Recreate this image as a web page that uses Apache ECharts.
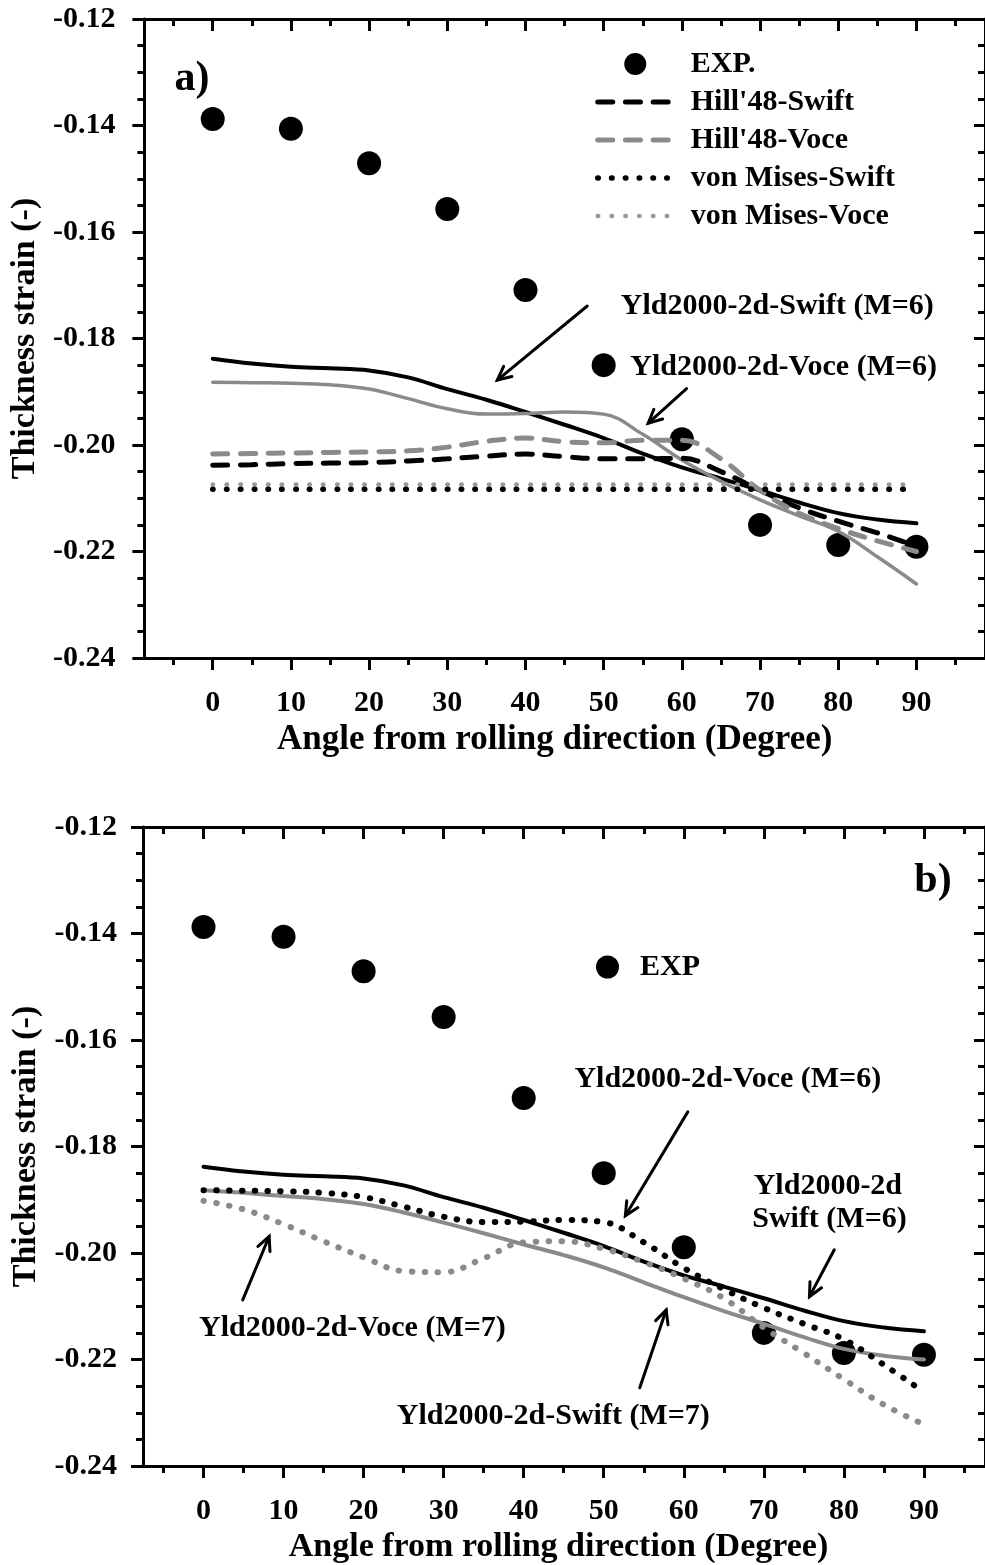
<!DOCTYPE html>
<html>
<head>
<meta charset="utf-8">
<script src="https://cdn.jsdelivr.net/npm/echarts@6/dist/echarts.min.js"></script>
<style>
html,body{margin:0;padding:0;background:#fff;}
#c{width:985px;height:1565px;}
</style>
</head>
<body>
<div id="c"></div>
<script>
// ---------------- data ----------------
const angles = [0,5,10,15,20,25,30,35,40,45,50,55,60,65,70,75,80,85,90];
const expAngles = [0,10,20,30,40,50,60,70,80,90];
const expValues = [-0.1388,-0.1406,-0.1471,-0.1557,-0.1709,-0.1850,-0.1989,-0.2150,-0.2188,-0.2191];

const yldSwiftM6 = [-0.1838,-0.1847,-0.1853,-0.1856,-0.1860,-0.1873,-0.1895,-0.1915,-0.1938,-0.1962,-0.1987,-0.2016,-0.2042,-0.2063,-0.2085,-0.2108,-0.2128,-0.2140,-0.2147];
const yldVoceM6  = [-0.1882,-0.1883,-0.1884,-0.1887,-0.1895,-0.1913,-0.1932,-0.1942,-0.1941,-0.1938,-0.1942,-0.1980,-0.2028,-0.2068,-0.2103,-0.2133,-0.2162,-0.2210,-0.2261];
const hillSwift  = [-0.2038,-0.2037,-0.2035,-0.2034,-0.2033,-0.2030,-0.2026,-0.2021,-0.2017,-0.2022,-0.2026,-0.2026,-0.2025,-0.2050,-0.2085,-0.2118,-0.2143,-0.2165,-0.2190];
const hillVoce   = [-0.2017,-0.2016,-0.2015,-0.2014,-0.2013,-0.2011,-0.2004,-0.1993,-0.1987,-0.1994,-0.1996,-0.1991,-0.1991,-0.2026,-0.2085,-0.2128,-0.2157,-0.2180,-0.2200];
const vmSwift    = [-0.2083,-0.2083,-0.2083,-0.2083,-0.2083,-0.2083,-0.2083,-0.2083,-0.2083,-0.2083,-0.2083,-0.2083,-0.2083,-0.2083,-0.2083,-0.2083,-0.2083,-0.2083,-0.2083];
const vmVoce     = [-0.2074,-0.2074,-0.2074,-0.2074,-0.2074,-0.2074,-0.2074,-0.2074,-0.2074,-0.2074,-0.2074,-0.2074,-0.2074,-0.2074,-0.2074,-0.2074,-0.2074,-0.2074,-0.2074];
const yldSwiftM7 = [-0.1882,-0.1887,-0.1893,-0.1899,-0.1908,-0.1924,-0.1943,-0.1963,-0.1984,-0.2004,-0.2027,-0.2055,-0.2083,-0.2109,-0.2133,-0.2158,-0.2180,-0.2193,-0.2200];
const yldVoceM7  = [-0.1902,-0.1918,-0.1946,-0.1978,-0.2008,-0.2034,-0.2036,-0.2010,-0.1980,-0.1978,-0.1992,-0.2017,-0.2048,-0.2085,-0.2140,-0.2188,-0.2237,-0.2285,-0.2322];

const xMajorTicks = [0,10,20,30,40,50,60,70,80,90];
const xMinorTicks = [-5,5,15,25,35,45,55,65,75,85,95];

const legendA = ['EXP.',"Hill'48-Swift","Hill'48-Voce",'von Mises-Swift','von Mises-Voce'];
const legendB = ['EXP'];

// annotations (data coordinates)
const notesA = [
  {t:'Yld2000-2d-Swift (M=6)', x:52.2, y:-0.1740, a:'left', s:30},
  {t:'Yld2000-2d-Voce (M=6)', x:53.4, y:-0.1854, a:'left', s:30},
  {t:'a)', x:-4.9, y:-0.1313, a:'left', s:42}
];
const arrowsA = [[47.9,-0.1739,36.4,-0.1878],[60.6,-0.1894,55.7,-0.1959]];
const notesB = [
  {t:'Yld2000-2d-Voce (M=6)', x:65.5, y:-0.1673, a:'center', s:30},
  {t:'Yld2000-2d', x:78.0, y:-0.1875, a:'center', s:30},
  {t:'Swift (M=6)', x:78.2, y:-0.1937, a:'center', s:30},
  {t:'Yld2000-2d-Voce (M=7)', x:18.6, y:-0.2141, a:'center', s:30},
  {t:'Yld2000-2d-Swift (M=7)', x:43.7, y:-0.2306, a:'center', s:30},
  {t:'b)', x:88.8, y:-0.1301, a:'left', s:42}
];
const arrowsB = [[60.5,-0.1735,52.7,-0.1930],[78.8,-0.1994,75.7,-0.2082],[4.9,-0.2088,8.2,-0.1969],[54.5,-0.2253,57.8,-0.2107]];

// ---------------- styling ----------------
const FONT = '"Liberation Serif","Times New Roman",serif';
const GRAY = '#8a8a8a';
const pair = (xs, ys) => xs.map((x,i)=>[x, ys[i]]);

function xAxes(gi, min, max, nameShift, nameSize) {
  const lab = {fontFamily:FONT, fontWeight:'bold', fontSize:30, color:'#000', margin:30};
  return [
    {gridIndex:gi, type:'value', position:'bottom', min, max,
     axisLine:{onZero:false, lineStyle:{color:'#000', width:3}},
     axisTick:{customValues:xMajorTicks, length:12, lineStyle:{color:'#000', width:3}},
     axisLabel:Object.assign({customValues:xMajorTicks}, lab),
     splitLine:{show:false},
     name:'Angle from rolling direction (Degree)', nameLocation:'middle', nameGap:64,
     nameTextStyle:{fontFamily:FONT, fontWeight:'bold', fontSize:nameSize, color:'#000', padding:[0,nameShift,0,0]}},
    {gridIndex:gi, type:'value', position:'bottom', min, max,
     axisLine:{show:false, onZero:false},
     axisTick:{customValues:xMinorTicks, length:7, lineStyle:{color:'#000', width:3}},
     axisLabel:{show:false}, splitLine:{show:false}},
    {gridIndex:gi, type:'value', position:'top', min, max,
     axisLine:{onZero:false, lineStyle:{color:'#000', width:3}},
     axisTick:{customValues:xMajorTicks, inside:true, length:12, lineStyle:{color:'#000', width:3}},
     axisLabel:{show:false}, splitLine:{show:false}},
    {gridIndex:gi, type:'value', position:'top', min, max,
     axisLine:{show:false, onZero:false},
     axisTick:{customValues:xMinorTicks, inside:true, length:7, lineStyle:{color:'#000', width:3}},
     axisLabel:{show:false}, splitLine:{show:false}}
  ];
}
function yAxes(gi, margin) {
  return [
    {gridIndex:gi, type:'value', position:'left', min:-0.24, max:-0.12, interval:0.02,
     axisLine:{onZero:false, lineStyle:{color:'#000', width:3}},
     axisTick:{length:12, lineStyle:{color:'#000', width:3}},
     minorTick:{show:true, splitNumber:4, length:7, lineStyle:{color:'#000', width:3}},
     axisLabel:{fontFamily:FONT, fontWeight:'bold', fontSize:30, color:'#000', margin,
                formatter:v=>v.toFixed(2)},
     splitLine:{show:false}, minorSplitLine:{show:false},
     name:'Thickness strain (-)', nameLocation:'middle', nameGap:91,
     nameTextStyle:{fontFamily:FONT, fontWeight:'bold', fontSize:34, color:'#000'}},
    {gridIndex:gi, type:'value', position:'right', min:-0.24, max:-0.12, interval:0.02,
     axisLine:{onZero:false, lineStyle:{color:'#000', width:3}},
     axisTick:{inside:true, length:11, lineStyle:{color:'#000', width:3}},
     minorTick:{show:true, splitNumber:4, length:7, lineStyle:{color:'#000', width:3}},
     axisLabel:{show:false}, splitLine:{show:false}}
  ];
}
function line(name, xi, yi, ys, color, width, type) {
  return {name, type:'line', xAxisIndex:xi, yAxisIndex:yi, data:pair(angles, ys),
          smooth:0.4, showSymbol:false, symbol:'none', silent:true,
          lineStyle:{color, width, type, cap:'round'}, itemStyle:{color}};
}
function scatter(name, xi, yi) {
  return {name, type:'scatter', xAxisIndex:xi, yAxisIndex:yi, data:pair(expAngles, expValues),
          symbol:'circle', symbolSize:24, itemStyle:{color:'#000', opacity:1}, silent:true};
}

const legendText = {fontFamily:FONT, fontWeight:'bold', fontSize:30, color:'#000', lineHeight:38};
const legendItems = names => names.map(n => (n.indexOf('EXP') === 0)
  ? {name:n, itemStyle:{opacity:1}}
  : {name:n, itemStyle:{opacity:0}});

const option = {
  animation:false,
  backgroundColor:'#fff',
  grid:[
    {left:143, top:19, width:845, height:639},
    {left:143, top:827, width:845, height:641}
  ],
  xAxis:[].concat(xAxes(0, -8.74, 98.77, 20, 35), xAxes(1, -7.56, 97.63, 11, 34)),
  yAxis:[].concat(yAxes(0, 29), yAxes(1, 26)),
  legend:[
    {data:legendItems(legendA), orient:'vertical', left:595, top:45, padding:0,
     itemWidth:75, itemHeight:22, itemGap:0, selectedMode:false,
     lineStyle:{width:'inherit'},
     textStyle:Object.assign({padding:[0,0,0,13]}, legendText)},
    {data:legendItems(legendB), orient:'vertical', left:596, top:948, padding:0,
     itemWidth:25, itemHeight:23, itemGap:0, selectedMode:false,
     textStyle:Object.assign({padding:[0,0,0,15]}, legendText)}
  ],
  series:[
    // panel a
    scatter('EXP.', 0, 0),
    line('Yld2000-2d-Swift (M=6)', 0, 0, yldSwiftM6, '#000', 4),
    line('Yld2000-2d-Voce (M=6)', 0, 0, yldVoceM6, GRAY, 3.5),
    line("Hill'48-Swift", 0, 0, hillSwift, '#000', 5, [15,12.7]),
    line("Hill'48-Voce", 0, 0, hillVoce, GRAY, 5, [15,12.7]),
    line('von Mises-Voce', 0, 0, vmVoce, '#999', 4.5, [0.5,13.3]),
    line('von Mises-Swift', 0, 0, vmSwift, '#000', 5.5, [0.5,13.3]),
    // panel b
    scatter('EXP', 4, 2),
    line('Yld2000-2d-Swift (M=6) ', 4, 2, yldSwiftM6, '#000', 4),
    line('Yld2000-2d-Swift (M=7)', 4, 2, yldSwiftM7, GRAY, 4),
    line('Yld2000-2d-Voce (M=7)', 4, 2, yldVoceM7, GRAY, 6, [0.5,12.5]),
    line('Yld2000-2d-Voce (M=6) ', 4, 2, yldVoceM6, '#000', 6, [0.5,12.3])
  ]
};

const chart = echarts.init(document.getElementById('c'), null, {renderer:'canvas'});
chart.setOption(option);

// annotations through the axes' own scales
function buildNotes(notes, arrows, xi, yi) {
  const els = [];
  const finder = {xAxisIndex:xi, yAxisIndex:yi};
  notes.forEach(n => {
    const p = chart.convertToPixel(finder, [n.x, n.y]);
    els.push({type:'text', x:p[0], y:p[1], silent:true,
      style:{text:n.t, fill:'#000', font:'bold '+n.s+'px '+FONT, align:n.a, verticalAlign:'middle'}});
  });
  arrows.forEach(a => {
    const p0 = chart.convertToPixel(finder, [a[0], a[1]]);
    const p1 = chart.convertToPixel(finder, [a[2], a[3]]);
    const ang = Math.atan2(p0[1]-p1[1], p0[0]-p1[0]);
    const L = 15, sp = 0.45;
    const h1 = [p1[0]+L*Math.cos(ang+sp), p1[1]+L*Math.sin(ang+sp)];
    const h2 = [p1[0]+L*Math.cos(ang-sp), p1[1]+L*Math.sin(ang-sp)];
    els.push({type:'polyline', silent:true, shape:{points:[p0, p1]},
      style:{stroke:'#000', lineWidth:3, lineCap:'round'}});
    els.push({type:'polyline', silent:true, shape:{points:[h1, p1, h2]},
      style:{stroke:'#000', lineWidth:3, lineCap:'round', lineJoin:'miter', fill:null}});
  });
  return els;
}
chart.setOption({graphic:[].concat(buildNotes(notesA, arrowsA, 0, 0), buildNotes(notesB, arrowsB, 4, 2))});
</script>
</body>
</html>
